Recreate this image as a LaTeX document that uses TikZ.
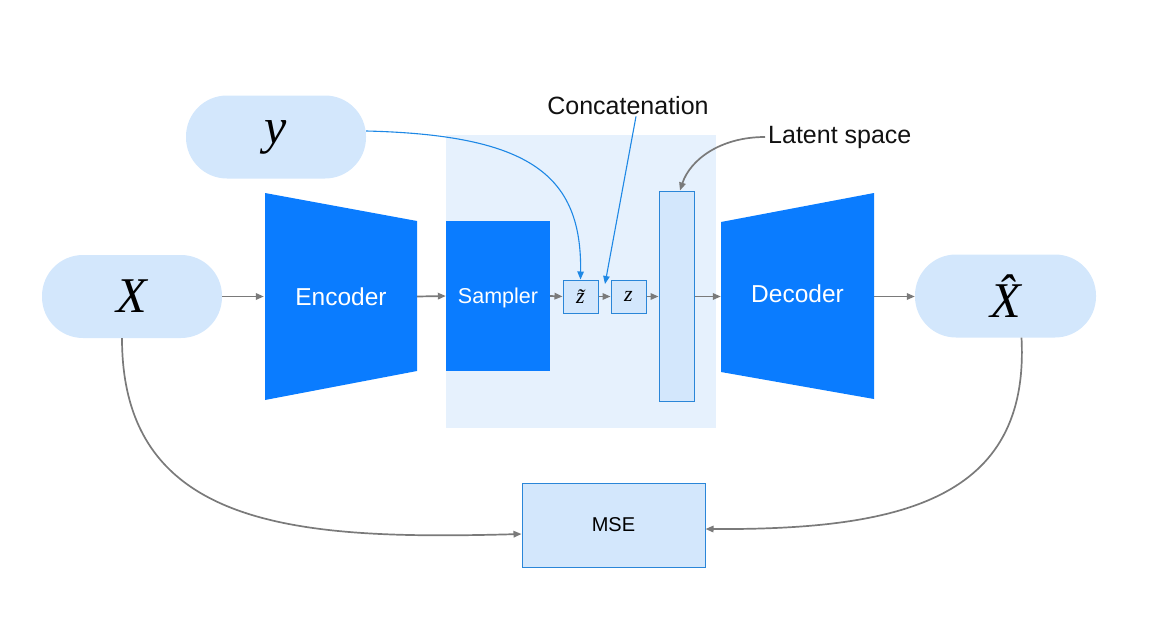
\documentclass[tikz,border=0pt]{standalone}
\usepackage{fontspec}
\setmainfont{Liberation Sans}
\newfontfamily\timfont{Liberation Serif}
\usetikzlibrary{arrows.meta}
\definecolor{encblue}{HTML}{0A7CFF}
\definecolor{pillfill}{HTML}{D3E7FC}
\definecolor{panelfill}{HTML}{E6F1FD}
\definecolor{boxline}{HTML}{2A86D8}
\definecolor{linkblue}{HTML}{1E88E5}
\definecolor{arrgray}{HTML}{7A7A7A}
\definecolor{txtblack}{HTML}{111111}
\begin{document}
\begin{tikzpicture}[x=1pt,y=-1pt,
  pill/.style={fill=pillfill, rounded corners=41pt, minimum width=180pt, minimum height=83pt, inner sep=0pt},
  mathtxt/.style={font=\timfont\itshape\fontsize{50}{56}\selectfont, text=black},
  blockbox/.style={minimum width=152pt, minimum height=150pt, inner sep=0pt, text=white, font=\fontsize{24.5}{30}\selectfont},
  smallbox/.style={draw=boxline, line width=1pt, fill=pillfill, inner sep=0pt},
  lbl/.style={text=txtblack, font=\fontsize{25}{30}\selectfont, inner sep=1pt},
  garrow/.style={draw=arrgray, line width=1.7pt, -{Triangle[length=8pt,width=6.5pt]}},
  barrow/.style={draw=linkblue, line width=1.1pt, -{Triangle[length=8pt,width=6.5pt]}}
]
\useasboundingbox (0,0) rectangle (1175,642);
% panel
\fill[panelfill] (446,135) rectangle (716,428);
% pills
\node[pill] (X) at (132,296.5) {};
\node[mathtxt] at (X) {X};
\node[pill] (y) at (276,137) {};
\node[mathtxt] at (y) {y};
\node[pill, minimum width=181pt] (Xh) at (1005.5,296) {};
\node[mathtxt] at (Xh) {\^{X}};
% encoder / decoder trapezoids
\fill[encblue] (265,193) -- (417,221) -- (417,371) -- (265,400) -- cycle;
\node[blockbox] (enc) at (341,296.5) {Encoder};
\fill[encblue] (721,222) -- (874,193) -- (874,399) -- (721,372) -- cycle;
\node[blockbox, minimum width=153pt] (dec) at (797.5,294) {Decoder};
% sampler
\node[fill=encblue, minimum width=104pt, minimum height=150pt, inner sep=0pt] (samp) at (498,296) {};
\node[text=white, font=\fontsize{21.5}{26}\selectfont, inner sep=0pt] at (498,298) {Sampler};
% latent boxes
\node[smallbox, minimum width=35pt, minimum height=33pt, font=\timfont\itshape\fontsize{22}{26}\selectfont] (zt) at (580.5,296.5) {\~{z}};
\node[smallbox, minimum width=35pt, minimum height=33pt, font=\timfont\itshape\fontsize{22}{26}\selectfont] (z) at (628.5,296.5) {z};
\node[smallbox, minimum width=35pt, minimum height=210pt] (lat) at (676.5,296) {};
% MSE
\node[smallbox, minimum width=183pt, minimum height=84pt, font=\fontsize{20}{24}\selectfont] (mse) at (613.5,525) {MSE};
% labels
\node[lbl] (concat) at (628,106) {Concatenation};
\node[lbl, anchor=west, inner sep=3pt] (lspace) at (765,137) {Latent space};
\coordinate (cc) at (605,284);
% arrows
\draw[garrow] (X.east) -- ([xshift=-1pt]enc.west |- X.east);
\draw[garrow] (enc.east) -- (samp.west);
\draw[garrow] (samp.east) -- (zt.west);
\draw[garrow] (zt.east) -- (z.west);
\draw[garrow] (z.east) -- (lat.west |- z.east);
\draw[garrow] (lat.east |- z.east) -- (dec.west |- z.east);
\draw[garrow] (dec.east |- z.east) -- (Xh.west |- z.east);
\draw[garrow] ([xshift=-10pt]X.south) .. controls (122,530) and (300,540) .. ([yshift=-9pt]mse.west);
\draw[garrow] ([xshift=16pt]Xh.south) .. controls (1030,500) and (900,530) .. ([yshift=-4pt]mse.east);
\draw[garrow] (lspace.west) .. controls (720,137) and (690,160) .. ([xshift=3.5pt]lat.north);
\draw[barrow] ([yshift=6pt]y.east) .. controls (530,135) and (582,175) .. (zt.north);
\draw[barrow] ([xshift=8pt]concat.south) -- (cc);
\end{tikzpicture}
\end{document}
